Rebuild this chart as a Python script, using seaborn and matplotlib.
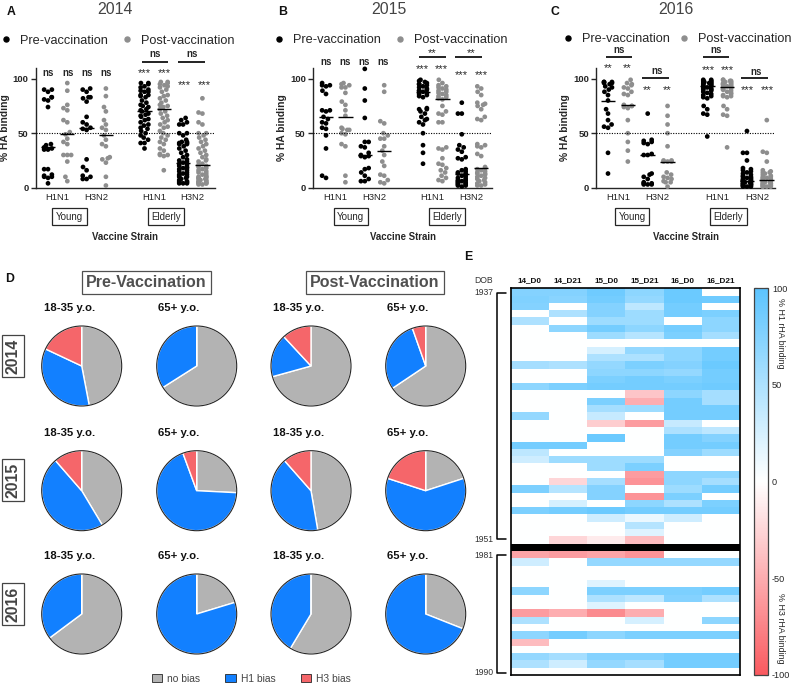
import numpy as np
import pandas as pd
import seaborn as sns
import matplotlib
matplotlib.use("Agg")
import matplotlib.pyplot as plt
from matplotlib.lines import Line2D
from matplotlib.patches import Patch, Circle
from matplotlib.colors import LinearSegmentedColormap

W, H = 793, 685
sns.set_theme(style="ticks")
plt.rcParams['font.family'] = ['Liberation Sans', 'DejaVu Sans']
plt.rcParams['axes.unicode_minus'] = False

# ---------- A: 2014 ----------
a_y_h1_pre = [90,90,88,83,83,81,80,74,40,39,37,36,35,35,17,17,12,11,10,10,9,4]
a_y_h1_post = [96,89,76,71,73,62,60,51,49,45,42,40,30,30,30,24,10,6]
a_y_h3_pre = [91,90,88,83,83,82,79,65,60,58,55,54,53,26,19,16,11,10,8,8]
a_y_h3_post = [91,84,74,70,62,58,55,53,48,44,40,38,28,27,26,23,10,2]
a_e_h1_pre = [96,96,95,93,92,90,89,88,88,85,85,84,83,80,78,76,75,74,72,71,70,68,67,66,65,63,62,60,58,57,55,54,52,50,48,46,44,41,41,36]
a_e_h1_post = [97,97,96,95,94,93,92,90,88,85,84,82,80,78,76,75,74,72,70,68,66,64,62,60,58,56,55,52,50,48,46,44,42,40,36,34,31,30,30,29,16]
a_e_h3_pre = [64,62,60,58,58,50,50,48,44,42,42,41,41,40,40,38,36,34,32,30,28,26,25,24,23,22,21,20,19,18,18,17,16,15,14,13,12,12,11,10,10,9,8,7,6,6,5,5,4,4,4]
a_e_h3_post = [82,69,68,60,58,50,50,48,46,44,42,40,38,36,34,32,30,28,26,25,24,22,21,20,19,18,17,16,15,14,13,12,11,10,10,9,9,8,8,7,7,6,6,5,5,5,4,4,4,3,3]
a_medians = [37,49,55,48,70,72,23,21]

# ---------- B: 2015 ----------
b_y_h1_pre = [96,94,94,93,89,86,71,71,70,65,63,60,59,55,54,48,36,11,9]
b_y_h1_post = [96,95,94,92,92,87,79,76,71,66,55,54,53,53,50,49,40,38,11,5]
b_y_h3_pre = [109,91,80,64,42,42,38,37,32,30,29,29,28,18,17,14,11,8,6,6]
b_y_h3_post = [94,88,61,59,50,48,45,45,38,34,30,24,20,12,11,7,5,4]
b_e_h1_pre = [99,98,97,96,95,95,94,93,92,91,90,89,89,88,87,86,85,84,83,73,72,72,70,68,65,63,62,60,58,50,39,32,22]
b_e_h1_post = [99,96,94,93,92,91,90,89,88,87,86,85,84,83,82,81,75,70,68,67,60,60,37,36,35,27,22,21,18,16,14,11,9,7,6]
b_e_h3_pre = [78,68,68,49,39,37,35,33,28,27,26,17,16,15,14,13,13,12,11,10,9,8,7,7,6,6,5,5,4,4,3,3,2,2,1]
b_e_h3_post = [93,91,88,85,78,77,76,75,72,65,63,62,40,39,38,37,31,29,19,18,17,16,15,14,13,13,12,11,10,9,8,7,6,5,4,3,2,2]
b_medians = [65,65,30,34,88,81,13,18]

# ---------- C: 2016 ----------
c_y_h1_pre = [97,97,97,96,96,95,93,92,90,88,85,80,72,68,62,58,56,55,32,13]
c_y_h1_post = [99,96,95,94,92,91,88,86,85,76,75,75,74,73,62,50,42,34,24]
c_y_h3_pre = [68,44,43,42,41,40,31,30,30,13,12,10,8,5,4,4,3,3,3]
c_y_h3_post = [75,66,58,50,38,25,25,24,24,24,14,12,10,9,8,6,5,5,1]
c_e_h1_pre = [99,99,98,98,98,97,97,96,96,96,95,95,94,94,93,93,92,92,91,91,90,90,89,88,87,86,85,84,83,82,75,72,68,67,47]
c_e_h1_post = [99,99,98,98,97,97,96,96,95,95,95,94,94,93,93,92,92,91,91,90,90,89,88,87,86,85,84,84,83,75,72,67,66,37]
c_e_h3_pre = [52,32,32,25,18,17,16,15,14,13,12,11,10,10,9,9,8,8,7,7,6,6,6,5,5,5,4,4,4,3,3,3,2,2,2,1,1,1]
c_e_h3_post = [62,33,32,24,16,15,14,14,13,12,11,10,10,9,9,8,8,7,7,6,6,5,5,5,4,4,4,3,3,3,2,2,2,1,1,1,1]
c_medians = [80,76,30,24,93,92,6,7]

strain_labels = ["H1N1", "H3N2", "H1N1", "H3N2"]
panel_years = ["2014", "2015", "2016"]

# ---------- D: pies (no bias, H1 bias, H3 bias) ----------
bias_labels = ["no bias", "H1 bias", "H3 bias"]
pie_2014 = [[47,35,18],[66,34,0],[70.7,17.4,11.9],[65.6,29,5.4]]
pie_2015 = [[41.4,47.2,11.4],[25.8,68.6,5.6],[47.3,41.2,11.5],[20,60,20]]
pie_2016 = [[64.8,35.2,0],[20.3,79.7,0],[58.6,41.4,0],[31,69,0]]

# ---------- E: heat map ----------
heat_columns = ["14_D0","14_D21","15_D0","15_D21","16_D0","16_D21"]
heat_older = [
 [75,75,88,70,90,0],[78,72,85,65,90,88],[75,0,75,40,85,0],[0,50,75,60,85,80],
 [50,0,60,60,0,70],[0,70,85,70,85,70],[0,0,60,45,80,55],[0,0,0,0,0,0],
 [0,0,25,65,70,85],[0,0,50,50,70,85],[55,50,65,80,75,90],[0,0,70,70,65,85],
 [0,0,80,85,80,85],[70,80,85,85,85,88],[0,0,0,-35,70,55],[0,0,80,-50,85,55],
 [0,0,55,60,85,85],[65,0,35,0,85,85],[0,0,-30,-60,35,0],[0,0,0,0,50,40],
 [0,0,90,0,85,75],[85,85,0,0,85,85],[40,0,0,0,75,60],[30,60,60,60,0,0],
 [0,0,60,80,0,0],[0,0,0,-60,70,70],[0,-25,55,-65,70,55],[80,45,75,0,60,85],
 [0,0,75,-65,80,0],[0,25,0,70,50,80],[80,85,90,85,85,85],[0,0,30,12,30,0],
 [0,0,0,45,0,0],[0,0,0,20,0,0],[0,-25,-12,-40,0,0]]
heat_younger = [
 [-55,-60,-55,-65,0,0],[30,0,65,65,65,65],[0,0,0,0,0,0],[0,0,0,0,0,0],
 [0,0,20,0,0,0],[70,0,80,80,80,85],[0,0,50,40,75,50],[0,0,20,0,0,0],
 [-60,-50,-70,-50,0,0],[50,0,0,25,0,70],[0,0,0,0,0,0],[70,85,70,80,80,80],
 [-40,0,0,0,0,0],[0,0,0,0,0,0],[65,55,75,75,85,85],[50,30,65,55,85,85],[0,0,0,0,0,0]]

DARK = "#262626"
PRE, POST = "#000000", "#8e8e8e"
PIE_COL = ["#b3b3b3", "#1280ff", "#f5666a"]
fig = plt.figure(figsize=(W/100, H/100), dpi=100)

def ax_px(l, t, r, b, **kw):
    return fig.add_axes([l/W, 1-b/H, (r-l)/W, (b-t)/H], **kw)

ov = ax_px(0, 0, W, H)
ov.set_xlim(0, W); ov.set_ylim(H, 0); ov.axis("off"); ov.set_zorder(10); ov.patch.set_alpha(0)

def T(x, y, s, size=7, weight="normal", color="#000000", ha="center", va="center", **kw):
    return ov.text(x, y, s, fontsize=size, fontweight=weight, color=color, ha=ha, va=va, **kw)

positions = [0,1,2,3,5,6,7,8]
phases = ["Pre","Post"]*4

def strip_panel(groups, medians, l, r, x0, unit):
    ax = ax_px(l, 67.8, r, 187.7)
    df = pd.concat([pd.DataFrame({"x":p, "phase":ph, "y":g}) for p, ph, g in zip(positions, phases, groups)])
    # two empty anchor rows, outside the view, set the narrow column width seaborn's swarm packs into
    anchors = pd.DataFrame({"x":[-20.0,-19.5], "phase":["Pre","Pre"], "y":[np.nan,np.nan]})
    df = pd.concat([anchors, df], ignore_index=True)
    sns.swarmplot(data=df, x="x", y="y", hue="phase", palette={"Pre":PRE,"Post":POST},
                  native_scale=True, size=3.4, ax=ax, legend=False, warn_thresh=1, clip_on=False)
    ax.hlines(medians, np.array(positions)-0.37, np.array(positions)+0.37, color="black", lw=1.0, zorder=5)
    ax.axhline(50, color="black", lw=0.8, ls=(0,(1,1.3)), zorder=4)
    ax.set_xlim((l-x0)/unit, (r-x0)/unit)
    ax.set_ylim(0, 110)
    ax.set_yticks([0,50,100])
    ax.set_xticks([0.5,2.5,5.5,7.5], strain_labels)
    ax.tick_params(axis="x", length=0, labelsize=6.8, pad=4, labelcolor=DARK)
    ax.tick_params(axis="y", length=3.5, width=1, labelsize=6.8, pad=1.5, labelcolor=DARK, color=DARK)
    for lab in ax.get_yticklabels():
        lab.set_fontweight("bold")
    ax.set_xlabel(""); ax.set_ylabel("")
    ax.patch.set_alpha(0)
    for s in ["top","right"]:
        ax.spines[s].set_visible(False)
    for s in ["left","bottom"]:
        ax.spines[s].set_linewidth(1.0); ax.spines[s].set_color(DARK)
    return ax

groups_a = [a_y_h1_pre,a_y_h1_post,a_y_h3_pre,a_y_h3_post,a_e_h1_pre,a_e_h1_post,a_e_h3_pre,a_e_h3_post]
groups_b = [b_y_h1_pre,b_y_h1_post,b_y_h3_pre,b_y_h3_post,b_e_h1_pre,b_e_h1_post,b_e_h3_pre,b_e_h3_post]
groups_c = [c_y_h1_pre,c_y_h1_post,c_y_h3_pre,c_y_h3_post,c_e_h1_pre,c_e_h1_post,c_e_h3_pre,c_e_h3_post]
strip_panel(groups_a, a_medians, 35.5, 215, 48, 19.3)
strip_panel(groups_b, b_medians, 312.7, 492, 326, 19.4)
strip_panel(groups_c, c_medians, 596, 775, 608, 19.85)

def box(x, y, s, size=7, weight="normal", color=DARK, ec=DARK, lw=0.9, pad=2.6, **kw):
    T(x, y, s, size=size, weight=weight, color=color,
      bbox=dict(boxstyle=f"square,pad={pad/size:.2f}", fc="white", ec=ec, lw=lw), **kw)

def bar(x1, x2, y):
    ov.plot([x1,x2],[y,y], color="#111111", lw=1.3, solid_capstyle="butt")

def star(x, y, s):
    if s == "ns":
        T(x, y, s, size=7.0, weight="bold", color=DARK)
    else:
        T(x, y + 1.5, s, size=8, color=DARK)

# panel letters and titles
for x, y, s in [(11,12,"A"),(283,12,"B"),(555,12,"C"),(10,279,"D"),(468,257,"E")]:
    T(x, y, s, size=8.8, weight="bold", color="#111111")
for x, s in zip([115,389,676], panel_years):
    T(x, 9, s, size=11.4, color="#444444")

# legends
for x, y, cs in [(-0.4,40.7,1.0),(272.6,40,1.0),(561.6,39,0.6)]:
    fig.legend(handles=[Line2D([],[],ls="",marker="o",ms=3.6,color=PRE), Line2D([],[],ls="",marker="o",ms=3.6,color=POST)],
               labels=["Pre-vaccination","Post-vaccination"], ncol=2, frameon=False, fontsize=9.2,
               loc="center left", bbox_to_anchor=(x,y), bbox_transform=ov.transData,
               borderpad=0, borderaxespad=0, handlelength=1, handletextpad=0.6, columnspacing=cs,
               labelcolor=DARK)

# axis captions, group boxes
for x, lx, y1, y2 in [(125,5,69.5,166),(402.7,281.7,350.7,447),(686,565,632,728.5)]:
    T(x, 236.7, "Vaccine Strain", size=6.9, weight="bold", color=DARK)
    T(lx, 128, "% HA binding", size=7.4, weight="bold", color=DARK, rotation=90)
    box(y1, 216.5, "Young", size=7)
    box(y2, 216.5, "Elderly", size=7)

# significance, panel A
for x in (48,68,87,106): star(x, 72.7, "ns")
for x in (144,164): star(x, 72, "***")
for x in (184,204): star(x, 84, "***")
bar(141.7,168,61.7); bar(178,205,61.7)
star(155,54,"ns"); star(192,54,"ns")
# panel B
for x in (326,345,364,383): star(x, 61.7, "ns")
for x in (422,441): star(x, 67.5, "***")
for x in (461,481): star(x, 74, "***")
bar(419,445.7,57); bar(455,481.7,57)
star(432,52,"**"); star(470.7,52,"**")
# panel C
for x in (608,627): star(x, 66.5, "**")
bar(605.7,632,57); star(618.7,50,"ns")
for x in (647,667): star(x, 88.5, "**")
bar(642,669,78); star(656.7,71,"ns")
for x in (708,727): star(x, 68.5, "***")
bar(702.7,729,57); star(715.7,50,"ns")
for x in (747,767): star(x, 89, "***")
bar(741,768,78); star(756,72,"ns")

# ---------- pies ----------
pie_x = [81.7,196.7,311,425.7]
pie_y = [366,490.7,614]
sub_x = [70,179,299,408]
sub_y = [308,432.7,555.7]
sub_labels = ["18-35 y.o.","65+ y.o.","18-35 y.o.","65+ y.o."]
for ry, row in zip(range(3), [pie_2014,pie_2015,pie_2016]):
    for cx, sx, sl, vals in zip(pie_x, sub_x, sub_labels, row):
        ax = ax_px(cx-41, pie_y[ry]-41, cx+41, pie_y[ry]+41)
        ax.pie(vals, colors=PIE_COL, startangle=90, counterclock=False, radius=1)
        ax.add_patch(Circle((0,0),1,fill=False,ec=DARK,lw=0.8))
        ax.set_xlim(-1.025,1.025); ax.set_ylim(-1.025,1.025)
        T(sx, sub_y[ry], sl, size=8.2, weight="bold", color="#111111")
for y, s in zip([356,480,604], panel_years):
    box(12.7, y, s, size=11.4, weight="bold", color="#444444", ec="#444444", rotation=90, pad=2.5)
box(146.3, 282.5, "Pre-Vaccination", size=11.5, weight="bold", color="#505050", ec="#505050", pad=3)
box(374.7, 282.5, "Post-Vaccination", size=11.5, weight="bold", color="#505050", ec="#505050", pad=3)
fig.legend(handles=[Patch(fc=c, ec=DARK, lw=0.6) for c in PIE_COL], labels=bias_labels, ncol=3, frameon=False,
           fontsize=7.4, loc="center left", bbox_to_anchor=(151.5,678.7), bbox_transform=ov.transData,
           borderpad=0, borderaxespad=0, handlelength=1.05, handleheight=0.8, handletextpad=0.5,
           columnspacing=2.4, labelcolor="#444444")

# ---------- heat map ----------
cmap = LinearSegmentedColormap.from_list("bias", ["#fa5a60","#ffffff","#5cc4ff"])
matrix = np.array(heat_older + [[np.nan]*6] + heat_younger, dtype=float)
hax = ax_px(510.7, 288.3, 740, 675)
cax = ax_px(754.3, 288.3, 767.7, 675)
sns.heatmap(pd.DataFrame(matrix, columns=heat_columns), cmap=cmap, vmin=-100, vmax=100, ax=hax, cbar_ax=cax,
            yticklabels=False, xticklabels=True)
hax.set_facecolor("black")
hax.xaxis.tick_top()
hax.tick_params(axis="x", length=0, labelsize=5.9, pad=3.2, labelrotation=0, labelcolor="#111111")
for lab in hax.get_xticklabels():
    lab.set_fontweight("bold")
hax.set_ylabel("")
for s in hax.spines.values():
    s.set_visible(True); s.set_linewidth(1.2); s.set_color("black")
cb = hax.collections[0].colorbar
cb.set_ticks([-100,-50,0,50,100])
cb.outline.set_edgecolor("#444444"); cb.outline.set_linewidth(0.9)
cax.tick_params(axis="y", length=2, width=0.8, direction="in", left=True, right=True, labelsize=6.6, pad=3, labelcolor=DARK, color=DARK)
T(781, 333, "% H1 rHA binding", size=6.4, color=DARK, rotation=-90)
T(781, 628, "% H3 rHA binding", size=6.4, color=DARK, rotation=-90)

# DOB brackets
T(484, 280, "DOB", size=6.2, color="#333333")
for y, s in [(292.7,"1937"),(539,"1951"),(555,"1981"),(672.5,"1990")]:
    T(484, y, s, size=6.2, color="#333333")
ov.plot([506,497,497,506],[292.7,292.7,539,539], color="black", lw=1.1)
ov.plot([506,497,497,506],[555,555,673.3,673.3], color="black", lw=1.1)

fig.savefig("out.png", dpi=100)
